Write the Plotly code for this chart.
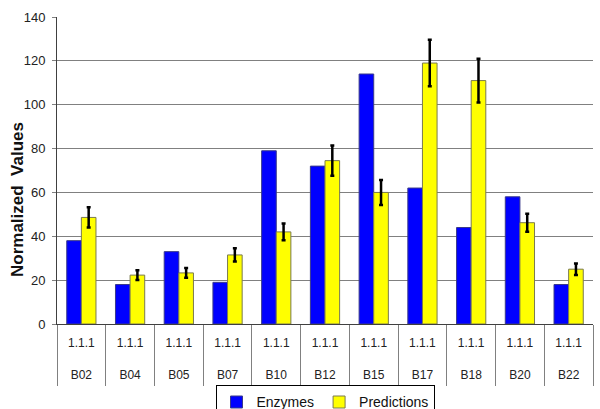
import plotly.graph_objects as go

categories = ["B02", "B04", "B05", "B07", "B10", "B12", "B15", "B17", "B18", "B20", "B22"]
sub_label = "1.1.1"
enzymes = [38, 18, 33, 19, 79, 72, 114, 62, 44, 58, 18]
predictions = [48.6, 22.3, 23.3, 31.5, 42, 74.5, 60, 119, 111, 46.2, 25]
pred_err = [4.6, 2.2, 2.2, 3, 3.8, 6.9, 5.7, 10.6, 10, 4.1, 2.6]
y_ticks = [0, 20, 40, 60, 80, 100, 120, 140]
y_title = "Normalized  Values"

tick_text = [f"{sub_label}<br><br>{c}" for c in categories]

fig = go.Figure()
fig.add_trace(go.Bar(
    x=categories, y=enzymes, name="Enzymes",
    marker=dict(color="#0000FF", line=dict(color="#3a3a8a", width=1)),
))
fig.add_trace(go.Bar(
    x=categories, y=predictions, name="Predictions",
    marker=dict(color="#FFFF00", line=dict(color="#7a7a50", width=1)),
    error_y=dict(type="data", array=pred_err, color="black", thickness=2.5, width=2),
))

fig.update_layout(
    width=600, height=409,
    margin=dict(l=57, r=7, t=17, b=85, autoexpand=False),
    paper_bgcolor="white", plot_bgcolor="white",
    barmode="group", bargap=0.4, bargroupgap=0,
    font=dict(family="Liberation Sans, Arial, sans-serif", size=13, color="#222222"),
    showlegend=True,
    legend=dict(
        orientation="h", x=0.5, xanchor="center", y=-0.2, yanchor="top",
        bordercolor="black", borderwidth=1, bgcolor="white",
        font=dict(size=14, color="#111111"),
        itemwidth=30, tracegroupgap=0,
    ),
    annotations=[dict(
        text=f"<b>{y_title.replace('  ', '&nbsp; ')}</b>", textangle=-90,
        xref="paper", yref="paper", x=-40 / 536, y=(324 - 200) / 307,
        xanchor="center", yanchor="middle", showarrow=False,
        font=dict(size=17, color="#111111"),
    )],
)
fig.update_xaxes(
    type="category", tickvals=categories, ticktext=tick_text,
    tickson="boundaries", ticks="outside", ticklen=61, tickcolor="#808080", tickwidth=1,
    ticklabelstandoff=8,
    showline=True, linecolor="#404040", linewidth=1,
    showgrid=False, zeroline=False, automargin=False,
    tickfont=dict(size=12, color="#222222"),
)
fig.update_yaxes(
    range=[0, 140], tickvals=y_ticks, ticks="outside", ticklen=4, tickcolor="#808080",
    showline=True, linecolor="#404040", linewidth=1,
    showgrid=True, gridcolor="#808080", gridwidth=1, zeroline=False,
    ticklabelstandoff=4, automargin=False,
    tickfont=dict(size=13, color="#222222"),
)

fig.write_html("out.html", config={"displayModeBar": False},
               post_script="document.body.style.margin='0px';document.body.style.padding='0px';")
